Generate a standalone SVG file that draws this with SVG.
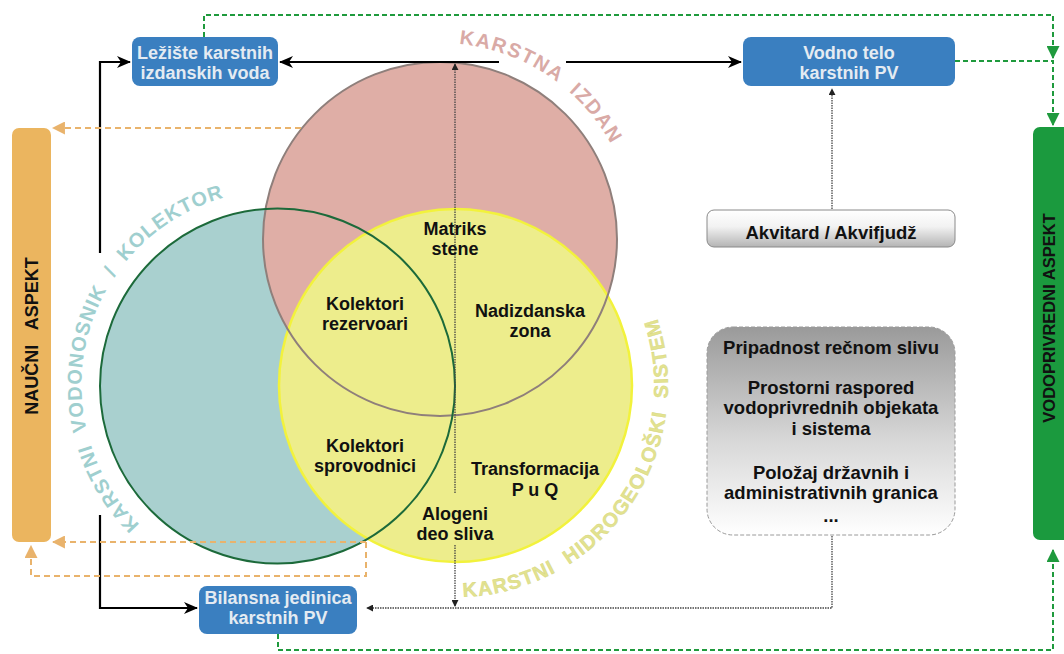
<svg xmlns="http://www.w3.org/2000/svg" width="1064" height="654" viewBox="0 0 1064 654">
<style>
text{font-family:"Liberation Sans",Arial,sans-serif;font-weight:bold}
.lbl{font-size:18px;fill:#111;text-anchor:middle}
.box{font-size:18px;fill:#e4ebf2;text-anchor:middle}
.gtx{font-size:18.5px;fill:#111;text-anchor:middle}
.blue{fill:#3a7fc0}
.solid{stroke:#000;stroke-width:2.2;fill:none}
.dot{stroke:#444;stroke-width:1.3;stroke-dasharray:1.5 1;fill:none}
.gdash{stroke:#1f9a3d;stroke-width:2;stroke-dasharray:5 3;fill:none}
.odash{stroke:#e9b36c;stroke-width:2;stroke-dasharray:6 4;fill:none}
.arc{font-size:20px}
</style>
<defs>
<marker id="ab" viewBox="0 0 14 12" markerWidth="14" markerHeight="12" refX="13" refY="6" orient="auto" markerUnits="userSpaceOnUse"><path d="M0,0 L14,6 L0,12 L4,6 z" fill="#000"/></marker>
<marker id="ad" viewBox="0 0 8 8" markerWidth="7" markerHeight="7" refX="7" refY="4" orient="auto" markerUnits="userSpaceOnUse"><path d="M0,0 L8,4 L0,8 z" fill="#222"/></marker>
<marker id="ag" viewBox="0 0 12 12" markerWidth="13" markerHeight="13" refX="11" refY="6" orient="auto" markerUnits="userSpaceOnUse"><path d="M0,0 L12,6 L0,12 z" fill="#1f9a3d"/></marker>
<marker id="ao" viewBox="0 0 12 12" markerWidth="13" markerHeight="13" refX="11" refY="6" orient="auto" markerUnits="userSpaceOnUse"><path d="M0,0 L12,6 L0,12 z" fill="#e9b36c"/></marker>
<linearGradient id="gAk" x1="0" y1="0" x2="0" y2="1"><stop offset="0" stop-color="#ffffff"/><stop offset="0.45" stop-color="#f2f2f2"/><stop offset="1" stop-color="#b4b4b4"/></linearGradient>
<linearGradient id="gGr" x1="0" y1="0" x2="0" y2="1"><stop offset="0" stop-color="#9a9a9a"/><stop offset="0.55" stop-color="#d8d8d8"/><stop offset="1" stop-color="#ffffff"/></linearGradient>
<path id="pPink" d="M440,43 A195,195 0 0 1 635,238"/>
<path id="pTeal" d="M151.8,535.4 A195,195 0 0 1 277.5,190.5"/>
<path id="pYel" d="M419.2,593.8 A212,212 0 0 0 639.6,279"/>
</defs>

<g id="circles">
<circle cx="277.5" cy="386" r="177.5" fill="#a9d0cf"/>
<circle cx="440" cy="239" r="177" fill="#dfaea6"/>
<circle cx="455.5" cy="385.5" r="176.5" fill="#eded8c"/>
<circle cx="455.5" cy="385.5" r="176.5" fill="none" stroke="#f2f23c" stroke-width="2.5"/>
<circle cx="440" cy="239" r="177" fill="none" stroke="#8f7f7b" stroke-width="2"/>
<circle cx="277.5" cy="386" r="177.5" fill="none" stroke="#1c6a3a" stroke-width="2"/>
</g>

<g id="arc-labels">
<text class="arc" fill="#d9aaa6" letter-spacing="1.5"><textPath href="#pPink" startOffset="19" xml:space="preserve">KARSTNA  IZDAN</textPath></text>
<text class="arc" fill="#9fcfcf" letter-spacing="1"><textPath href="#pTeal" startOffset="16" xml:space="preserve">KARSTNI  VODONOSNIK  /  KOLEKTOR</textPath></text>
<text class="arc" fill="#e2e290" stroke="#d6d67a" stroke-width="0.4" letter-spacing="1.3"><textPath href="#pYel" startOffset="44" xml:space="preserve">KARSTNI  HIDROGEOLOŠKI  SISTEM</textPath></text>
</g>

<g id="connectors">
<path class="solid" d="M499,62 H280" marker-end="url(#ab)"/>
<path class="solid" d="M566,62 H741" marker-end="url(#ab)"/>
<path class="solid" d="M100,253 V62 H130" marker-end="url(#ab)"/>
<path class="solid" d="M100,515 V608 H197" marker-end="url(#ab)"/>
<path class="dot" d="M455,493 V64" marker-end="url(#ad)"/>
<path class="dot" d="M455,545 V606" marker-end="url(#ad)"/>
<path class="dot" d="M832,209 V89" marker-end="url(#ad)"/>
<path class="dot" d="M832,536 V608 H367" marker-end="url(#ad)"/>
<path class="gdash" d="M204,37 V15 H1053 V58" marker-end="url(#ag)"/>
<path class="gdash" d="M955,61 H1053 V125" marker-end="url(#ag)"/>
<path class="gdash" d="M278,634 V650 H1053 V550" marker-end="url(#ag)"/>
<path class="odash" d="M301,128 H53" marker-end="url(#ao)"/>
<path class="odash" d="M366,542 H53" marker-end="url(#ao)"/>
<path class="odash" d="M366,542 V576 H31 V546" marker-end="url(#ao)"/>
</g>

<g id="circle-texts">
<text class="lbl" x="455" y="234.5">Matriks</text>
<text class="lbl" x="455" y="255">stene</text>
<text class="lbl" x="365" y="309.5">Kolektori</text>
<text class="lbl" x="365" y="330">rezervoari</text>
<text class="lbl" x="530" y="316.5">Nadizdanska</text>
<text class="lbl" x="530" y="337">zona</text>
<text class="lbl" x="365" y="451.5">Kolektori</text>
<text class="lbl" x="365" y="472">sprovodnici</text>
<text class="lbl" x="535" y="474.5">Transformacija</text>
<text class="lbl" x="535" y="496">P u Q</text>
<text class="lbl" x="455" y="519.5">Alogeni</text>
<text class="lbl" x="455" y="540">deo sliva</text>
</g>

<g id="lezisete">
<rect class="blue" x="132" y="37" width="146" height="49" rx="8"/>
<text class="box" x="205" y="59">Ležište karstnih</text>
<text class="box" x="205" y="79">izdanskih voda</text>
</g>

<g id="vodno-telo">
<rect class="blue" x="743" y="37" width="212" height="49" rx="8"/>
<text class="box" x="849" y="59">Vodno telo</text>
<text class="box" x="849" y="79">karstnih PV</text>
</g>

<g id="bilansna">
<rect class="blue" x="199" y="586" width="158" height="48" rx="8"/>
<text class="box" x="278" y="604">Bilansna jedinica</text>
<text class="box" x="278" y="624">karstnih PV</text>
</g>

<g id="akvitard">
<rect x="707" y="210" width="248" height="37" rx="7" fill="url(#gAk)" stroke="#8a8a8a" stroke-width="1"/>
<text class="gtx" x="831" y="239">Akvitard / Akvifjudž</text>
</g>

<g id="pripadnost">
<rect x="707" y="327" width="248" height="208" rx="26" fill="url(#gGr)" stroke="#9a9a9a" stroke-width="1" stroke-dasharray="4 2"/>
<text class="gtx" x="831" y="354">Pripadnost rečnom slivu</text>
<text class="gtx" x="831" y="394">Prostorni raspored</text>
<text class="gtx" x="831" y="414">vodoprivrednih objekata</text>
<text class="gtx" x="831" y="435">i sistema</text>
<text class="gtx" x="831" y="479">Položaj državnih i</text>
<text class="gtx" x="831" y="499">administrativnih granica</text>
<text class="gtx" x="831" y="522">...</text>
</g>

<g id="naucni-aspekt">
<rect x="12" y="128" width="39" height="414" rx="7" fill="#ebb55f"/>
<text x="0" y="0" transform="translate(38,336) rotate(-90)" font-size="18" fill="#111" text-anchor="middle" xml:space="preserve">NAUČNI   ASPEKT</text>
</g>

<g id="vodoprivredni-aspekt">
<rect x="1033" y="127" width="40" height="413" rx="7" fill="#1b9a3e"/>
<text x="0" y="0" transform="translate(1055,318) rotate(-90)" font-size="16.5" fill="#111" text-anchor="middle">VODOPRIVREDNI ASPEKT</text>
</g>
</svg>
